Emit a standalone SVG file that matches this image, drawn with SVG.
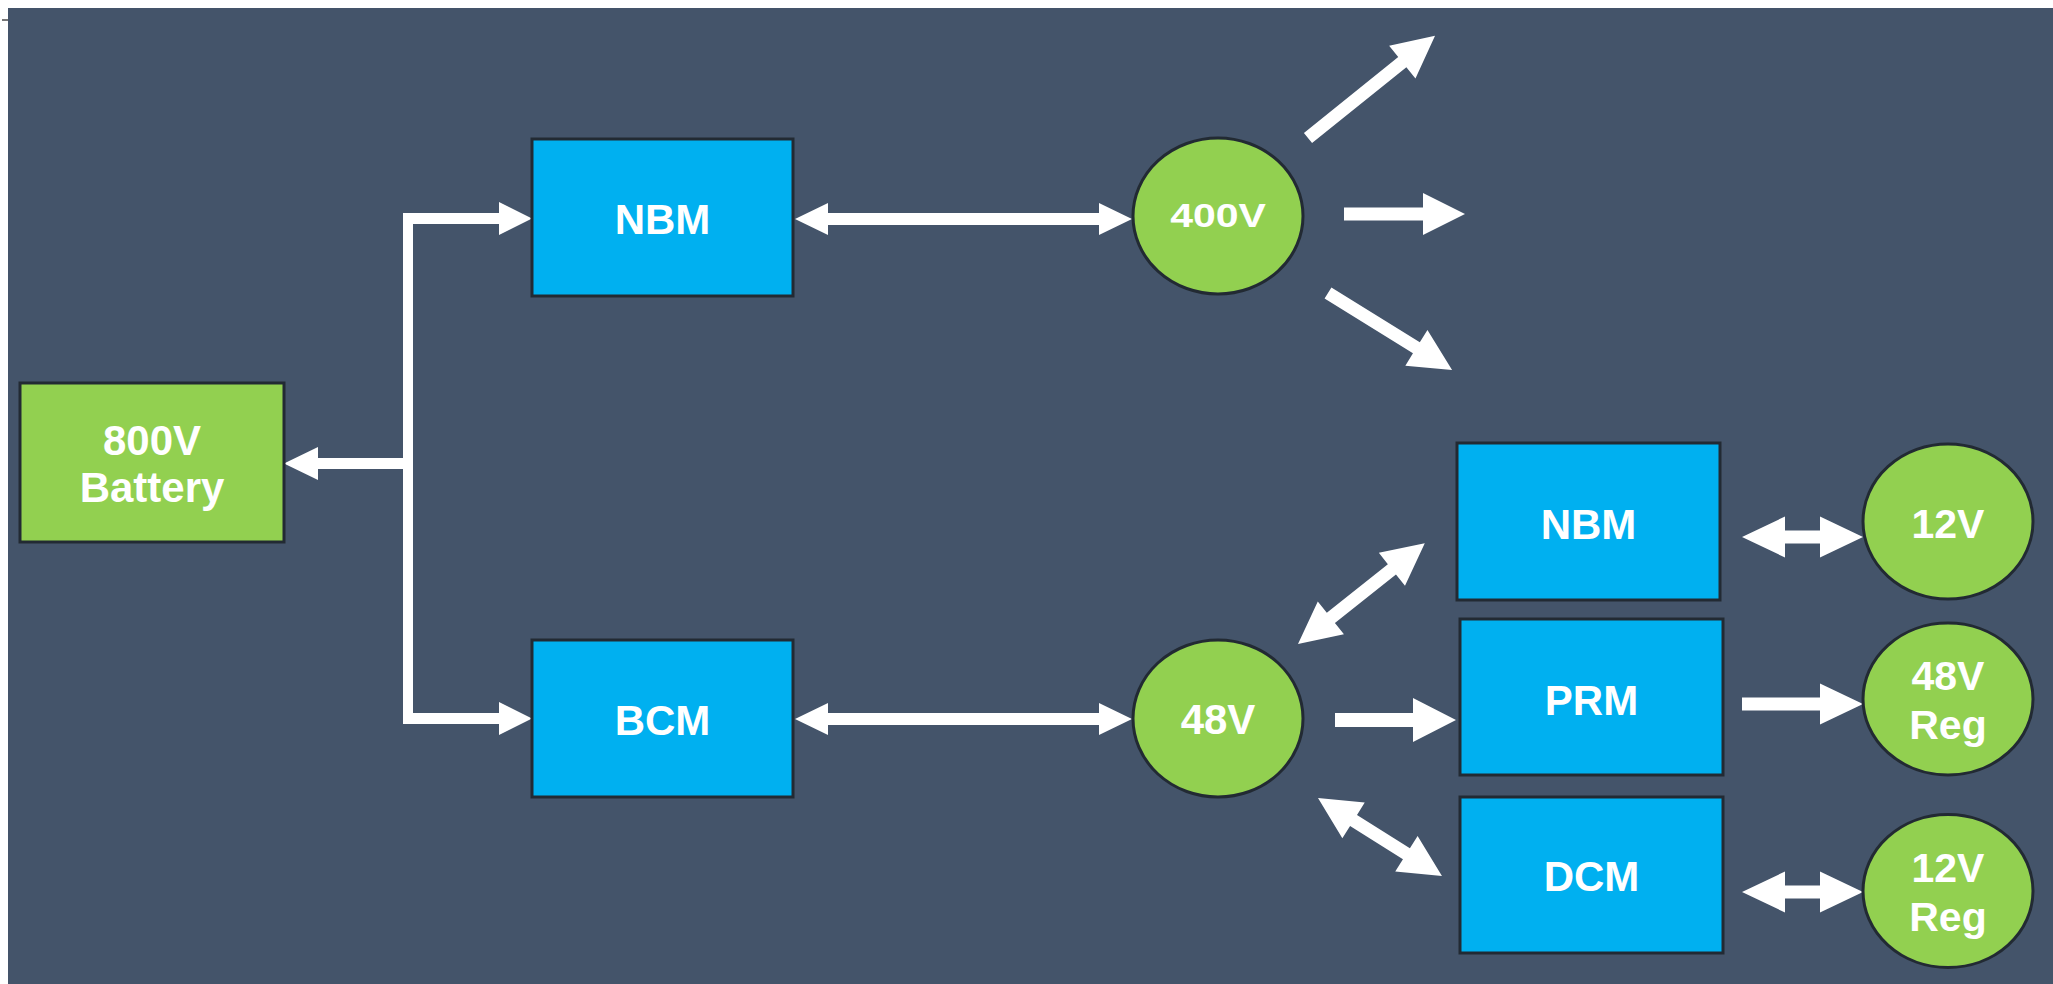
<svg xmlns="http://www.w3.org/2000/svg" width="2053" height="984" viewBox="0 0 2053 984">
  <style>
    .bg { fill: #44546a; }
    .box-blue { fill: #00b0f0; stroke: #222a33; stroke-width: 3; }
    .box-green { fill: #92d050; stroke: #222a33; stroke-width: 3; }
    .circ { fill: #92d050; stroke: #222a33; stroke-width: 3; }
    .lbl { fill: #ffffff; font-family: "Liberation Sans", Arial, sans-serif; font-weight: bold; text-anchor: middle; }
    .arr { fill: #ffffff; }
  </style>
  <rect x="0" y="0" width="2053" height="984" fill="#ffffff"/>
  <rect class="bg" x="8" y="8" width="2045" height="976"/>
  <rect x="2" y="19" width="6" height="2" fill="#777777"/>

  <g id="connectors">
    <!-- battery bus -->
    <rect class="arr" x="403" y="213" width="10" height="511"/>
    <rect class="arr" x="403" y="213" width="97" height="11"/>
    <polygon class="arr" points="499,202 532,218.5 499,235"/>
    <rect class="arr" x="403" y="713" width="97" height="11"/>
    <polygon class="arr" points="499,702 532,718.5 499,735"/>
    <rect class="arr" x="317" y="458" width="96" height="11"/>
    <polygon class="arr" points="318,447 284,463.5 318,480"/>

    <!-- NBM <-> 400V -->
    <polygon class="arr" points="795,219 828,203 828,213 1099,213 1099,203 1132,219 1099,235 1099,225 828,225 828,235"/>
    <!-- BCM <-> 48V -->
    <polygon class="arr" points="795,719 828,703 828,713 1099,713 1099,703 1132,719 1099,735 1099,725 828,725 828,735"/>

    <!-- 400V outputs -->
    <polygon class="arr" transform="translate(1308,138) rotate(-38.8)" points="0,-6.5 121,-6.5 121,-21 163,0 121,21 121,6.5 0,6.5"/>
    <polygon class="arr" points="1344,207.5 1423,207.5 1423,193 1465,214 1423,235 1423,220.5 1344,220.5"/>
    <polygon class="arr" transform="translate(1328,293) rotate(31.8)" points="0,-6.5 104,-6.5 104,-21 146,0 104,21 104,6.5 0,6.5"/>

    <!-- 48V outputs -->
    <polygon class="arr" transform="translate(1298,644) rotate(-38.5)" points="0,0 42,-21 42,-6.5 120,-6.5 120,-21 162,0 120,21 120,6.5 42,6.5 42,21"/>
    <polygon class="arr" points="1335,713 1413,713 1413,698 1456,720 1413,742 1413,727 1335,727"/>
    <polygon class="arr" transform="translate(1318,798) rotate(32.2)" points="0,0 42,-21 42,-6.5 104.5,-6.5 104.5,-21 146.5,0 104.5,21 104.5,6.5 42,6.5 42,21"/>

    <!-- right column -> circles -->
    <polygon class="arr" points="1742,537 1785,516.5 1785,530.5 1820,530.5 1820,516.5 1863,537 1820,557.5 1820,543.5 1785,543.5 1785,557.5"/>
    <polygon class="arr" points="1742,697.5 1820,697.5 1820,683.5 1863,704 1820,724.5 1820,710.5 1742,710.5"/>
    <polygon class="arr" points="1742,892 1785,871.5 1785,885.5 1820,885.5 1820,871.5 1863,892 1820,912.5 1820,898.5 1785,898.5 1785,912.5"/>
  </g>

  <g id="battery">
    <rect class="box-green" x="20" y="383" width="264" height="159"/>
    <text class="lbl" x="152" y="455" font-size="42">800V</text>
    <text class="lbl" x="152" y="502" font-size="42">Battery</text>
  </g>

  <g id="nbm-top">
    <rect class="box-blue" x="532" y="139" width="261" height="157"/>
    <text class="lbl" x="662.5" y="234" font-size="42">NBM</text>
  </g>

  <g id="bcm">
    <rect class="box-blue" x="532" y="640" width="261" height="157"/>
    <text class="lbl" x="662.5" y="735" font-size="42">BCM</text>
  </g>

  <g id="v400">
    <ellipse class="circ" cx="1218" cy="216" rx="85" ry="78"/>
    <text class="lbl" font-size="41" transform="translate(1218,227) scale(1,0.8)" x="0" y="0">400V</text>
  </g>

  <g id="v48">
    <ellipse class="circ" cx="1218" cy="718.5" rx="85" ry="78.5"/>
    <text class="lbl" x="1218" y="734" font-size="42">48V</text>
  </g>

  <g id="nbm-right">
    <rect class="box-blue" x="1457" y="443" width="263" height="157"/>
    <text class="lbl" x="1588.5" y="539" font-size="42">NBM</text>
  </g>

  <g id="prm">
    <rect class="box-blue" x="1460" y="619" width="263" height="156"/>
    <text class="lbl" x="1591.5" y="715" font-size="42">PRM</text>
  </g>

  <g id="dcm">
    <rect class="box-blue" x="1460" y="797" width="263" height="156"/>
    <text class="lbl" x="1591.5" y="891" font-size="42">DCM</text>
  </g>

  <g id="v12">
    <ellipse class="circ" cx="1948" cy="521.5" rx="85" ry="77.5"/>
    <text class="lbl" x="1948" y="538" font-size="41">12V</text>
  </g>

  <g id="v48reg">
    <ellipse class="circ" cx="1948" cy="699" rx="85" ry="76"/>
    <text class="lbl" x="1948" y="690" font-size="41">48V</text>
    <text class="lbl" x="1948" y="739" font-size="41">Reg</text>
  </g>

  <g id="v12reg">
    <ellipse class="circ" cx="1948" cy="891" rx="85" ry="76.5"/>
    <text class="lbl" x="1948" y="882" font-size="41">12V</text>
    <text class="lbl" x="1948" y="931" font-size="41">Reg</text>
  </g>
</svg>
